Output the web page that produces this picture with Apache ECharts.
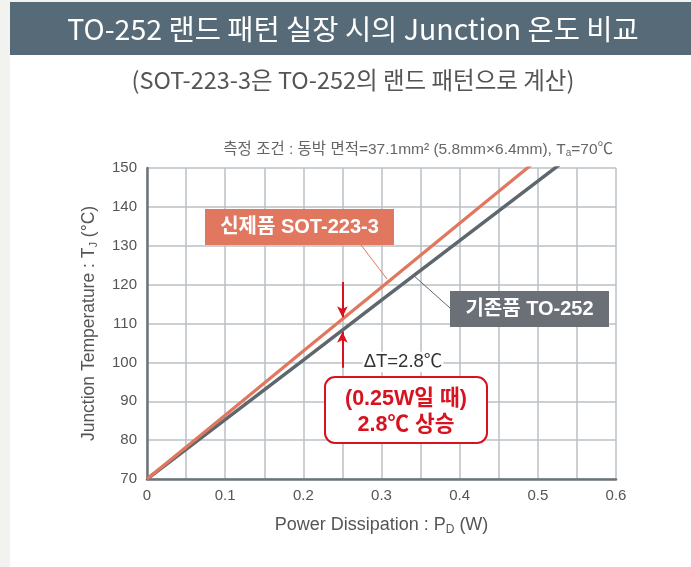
<!DOCTYPE html>
<html><head><meta charset="utf-8">
<script src="https://cdn.jsdelivr.net/npm/echarts@6/dist/echarts.min.js"></script>
<style>html,body{margin:0;padding:0;background:#fff}#c{width:691px;height:567px}</style>
</head><body><div id="c"></div>
<script>
// ---- data ----
const powerW  = [0, 0.1, 0.2, 0.3, 0.4, 0.5, 0.55];
const sotTemp = [70, 86.4, 102.9, 119.3, 135.8, 152.2, 160.4];   // 신제품 SOT-223-3
const toTemp  = [70, 85.3, 100.6, 116.0, 131.3, 146.6, 154.3];   // 기존품 TO-252
const xTicks  = [0, 0.1, 0.2, 0.3, 0.4, 0.5, 0.6];
const yTicks  = [70, 80, 90, 100, 110, 120, 130, 140, 150];
const deltaAt = 0.25;
const arrowDown = [120.7, 111.6];
const arrowUp   = [98.6, 107.9];

const KR = '"Liberation Sans", "Noto Sans CJK KR", sans-serif';
const LAT = '"Liberation Sans", Arial, sans-serif';
const RED = '#d7131f';
const ORANGE = '#e0775e';
const GRAYL = '#5f676e';

const chart = echarts.init(document.getElementById('c'), null, {renderer: 'canvas'});
chart.setOption({
  backgroundColor: '#ffffff',
  animation: false,
  grid: {left: 147, right: 75, top: 168, bottom: 88, containLabel: false},
  xAxis: {
    type: 'value', min: xTicks[0], max: xTicks[xTicks.length - 1], interval: 0.1,
    name: '{a|Power Dissipation : P}{s|D}{a| (W)}',
    nameLocation: 'middle', nameGap: 36,
    nameTextStyle: {rich: {
      a: {fontFamily: LAT, fontSize: 18, color: '#555'},
      s: {fontFamily: LAT, fontSize: 12, color: '#555', padding: [9, 0, 0, 0]}
    }},
    axisLine: {show: true, onZero: false, lineStyle: {color: '#6b747b', width: 2.5}},
    axisTick: {show: false},
    minorTick: {show: false, splitNumber: 2},
    axisLabel: {fontFamily: LAT, fontSize: 15, color: '#555', margin: 9},
    splitLine: {show: true, lineStyle: {color: '#b9c0c5', width: 1.5}},
    minorSplitLine: {show: true, lineStyle: {color: '#b9c0c5', width: 1.5}}
  },
  yAxis: {
    type: 'value', min: yTicks[0], max: yTicks[yTicks.length - 1], interval: 10,
    name: '{a|Junction Temperature : T}{s|J}{a| (°C)}',
    nameLocation: 'middle', nameGap: 48,
    nameTextStyle: {rich: {
      a: {fontFamily: LAT, fontSize: 17.5, color: '#555'},
      s: {fontFamily: LAT, fontSize: 11, color: '#555', padding: [8, 0, 0, 0]}
    }},
    axisLine: {show: true, onZero: false, lineStyle: {color: '#6b747b', width: 2.5}},
    axisTick: {show: false},
    axisLabel: {fontFamily: LAT, fontSize: 15, color: '#555', margin: 10},
    splitLine: {show: true, lineStyle: {color: '#b9c0c5', width: 1.5}}
  },
  series: [
    {
      name: '기존품 TO-252', type: 'line', clip: true, symbol: 'none', z: 3,
      data: powerW.map((x, i) => [x, toTemp[i]]),
      lineStyle: {color: GRAYL, width: 3.5}
    },
    {
      name: '신제품 SOT-223-3', type: 'line', clip: true, symbol: 'none', z: 4,
      data: powerW.map((x, i) => [x, sotTemp[i]]),
      lineStyle: {color: ORANGE, width: 3.2},
      markLine: {
        silent: true, symbol: ['none', 'arrow'], symbolSize: [8, 11],
        label: {show: false},
        lineStyle: {color: RED, width: 2, type: 'solid'},
        data: [
          [{coord: [deltaAt, arrowDown[0]]}, {coord: [deltaAt, arrowDown[1]]}],
          [{coord: [deltaAt, arrowUp[0]]}, {coord: [deltaAt, arrowUp[1]]}]
        ]
      }
    }
  ],
  graphic: [
    {type: 'rect', z: -10, silent: true, shape: {x: 0, y: 0, width: 10, height: 567}, style: {fill: '#f2f2ef'}},
    {type: 'rect', z: -10, silent: true, shape: {x: 10, y: 0, width: 681, height: 2}, style: {fill: '#f2f2ef'}},
    {type: 'rect', silent: true, shape: {x: 10, y: 2, width: 681, height: 53}, style: {fill: '#566b77'}},
    {type: 'text', silent: true, style: {text: 'TO-252 랜드 패턴 실장 시의 Junction 온도 비교', x: 353, y: 29,
      align: 'center', verticalAlign: 'middle', font: '28.5px "Noto Sans CJK KR", sans-serif', fill: '#ffffff'}},
    {type: 'text', silent: true, style: {text: '(SOT-223-3은 TO-252의 랜드 패턴으로 계산)', x: 353, y: 80,
      align: 'center', verticalAlign: 'middle', font: '23.5px "Noto Sans CJK KR", sans-serif', fill: '#555555'}},
    {type: 'text', silent: true, style: {
      text: '측정 조건 : 동박 면적=37.1mm² (5.8mm×6.4mm), T{s|a}=70℃', x: 613, y: 150,
      align: 'right', verticalAlign: 'middle', font: '15.5px ' + KR, fill: '#666666',
      rich: {s: {fontSize: 10, fontFamily: LAT, fill: '#666666', padding: [7, 0, 0, 0]}}}},
    // leader lines
    {type: 'line', silent: true, z: 5, shape: {x1: 361, y1: 245, x2: 387, y2: 279}, style: {stroke: ORANGE, lineWidth: 1}},
    {type: 'line', silent: true, z: 5, shape: {x1: 413, y1: 275, x2: 450, y2: 308}, style: {stroke: GRAYL, lineWidth: 1}},
    // series labels
    {type: 'rect', silent: true, z: 6, shape: {x: 205, y: 209, width: 189, height: 36}, style: {fill: ORANGE}},
    {type: 'text', silent: true, z: 7, style: {text: '신제품 SOT-223-3', x: 299.5, y: 227, align: 'center', verticalAlign: 'middle',
      font: 'bold 20px ' + KR, fill: '#ffffff'}},
    {type: 'rect', silent: true, z: 6, shape: {x: 450, y: 291, width: 159, height: 36}, style: {fill: '#6b7077'}},
    {type: 'text', silent: true, z: 7, style: {text: '기존품 TO-252', x: 529.5, y: 309, align: 'center', verticalAlign: 'middle',
      font: 'bold 20px ' + KR, fill: '#ffffff'}},
    // delta text
    {type: 'text', silent: true, z: 7, style: {text: 'ΔT=2.8℃', x: 403, y: 362, align: 'center', verticalAlign: 'middle',
      font: '18.5px ' + KR, fill: '#333333', backgroundColor: '#ffffff', padding: [1, 1]}},
    // red callout
    {type: 'rect', silent: true, z: 6, shape: {x: 325, y: 377, width: 162, height: 66, r: 10},
      style: {fill: '#ffffff', stroke: RED, lineWidth: 2}},
    {type: 'text', silent: true, z: 7, style: {text: '(0.25W일 때)', x: 406, y: 399, align: 'center', verticalAlign: 'middle',
      font: 'bold 21.5px ' + KR, fill: RED}},
    {type: 'text', silent: true, z: 7, style: {text: '2.8℃ 상승', x: 406, y: 425, align: 'center', verticalAlign: 'middle',
      font: 'bold 21.5px ' + KR, fill: RED}}
  ]
});
</script>
</body></html>
